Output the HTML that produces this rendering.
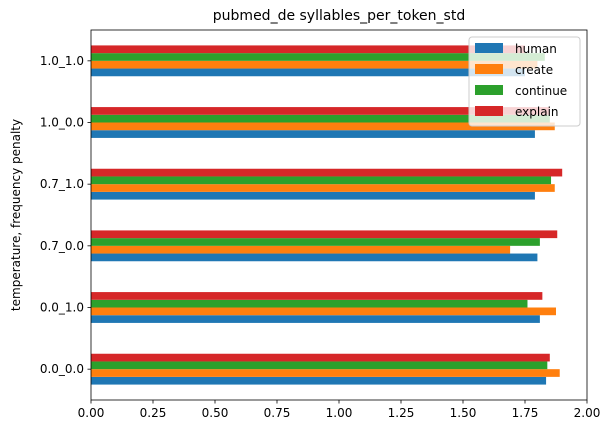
<!DOCTYPE html>
<html><head><meta charset="utf-8"><style>
body{margin:0;background:#fff;font-family:"DejaVu Sans","Liberation Sans",sans-serif}
</style></head><body>
<svg id="c" width="611" height="433" xmlns="http://www.w3.org/2000/svg" font-family="DejaVu Sans, Liberation Sans, sans-serif"></svg>
<script>
const categories=["0.0_0.0","0.0_1.0","0.7_0.0","0.7_1.0","1.0_0.0","1.0_1.0"];
const seriesNames=["human","create","continue","explain"];
const human=[1.835,1.81,1.80,1.79,1.79,1.75];
const create=[1.89,1.875,1.69,1.87,1.87,1.80];
const cont=[1.84,1.76,1.81,1.855,1.85,1.83];
const explain=[1.85,1.82,1.88,1.90,1.85,1.75];
const xTicks=[0,0.25,0.5,0.75,1.0,1.25,1.5,1.75,2.0];
const colors=["#1f77b4","#ff7f0e","#2ca02c","#d62728"];
const series=[human,create,cont,explain];
const L=91,R=587,T=30,B=400,xmax=2.0;
const svg=document.getElementById('c');const NS="http://www.w3.org/2000/svg";
function x(v){return L+v/xmax*(R-L);}
const step=(B-T)/categories.length;
function yc(i){return B-step*(i+0.5);}
function mk(t,a,txt){const e=document.createElementNS(NS,t);for(const k in a)e.setAttribute(k,a[k]);if(txt!==undefined)e.textContent=txt;svg.appendChild(e);return e;}
const bh=step*0.5/4;
categories.forEach((c,i)=>{
 series.forEach((s,j)=>{
  const y=yc(i)+step*0.25-bh*(j+1);
  const r=mk('rect',{x:x(0),y:y,width:x(s[i])-x(0),height:bh,fill:colors[j]});
  
  
 });
 const tk=mk('line',{x1:L-3.5,x2:L,y1:yc(i),y2:yc(i),stroke:'#000','stroke-width':0.8});
 
 
 const tl=mk('text',{x:L-7,y:yc(i)+4,'text-anchor':'end','font-size':12},c);
 
 
});
xTicks.forEach(v=>{
 const tk=mk('line',{x1:x(v),x2:x(v),y1:B,y2:B+3.5,stroke:'#000','stroke-width':0.8});
 
 
 const tl=mk('text',{x:x(v),y:B+17,'text-anchor':'middle','font-size':12},v.toFixed(2));
 
 
});
const fr=mk('rect',{x:L,y:T,width:R-L,height:B-T,fill:'none',stroke:'#000','stroke-width':0.8});


const ti=mk('text',{x:(L+R)/2,y:T-10,'text-anchor':'middle','font-size':14},'pubmed_de syllables_per_token_std');


const yl=mk('text',{x:0,y:0,'text-anchor':'middle','font-size':12,transform:'translate(20,'+((T+B)/2)+') rotate(-90)'},'temperature, frequency penalty');


const lg=mk('rect',{x:469,y:37,width:111,height:89,rx:3,fill:'#fff','fill-opacity':0.8,stroke:'#ccc'});


seriesNames.forEach((n,j)=>{
 const y=48+j*21;
 const sw=mk('rect',{x:475,y:y-5,width:28,height:10,fill:colors[j]});
 
 
 const lt=mk('text',{x:515,y:y+5,'font-size':12},n);
 
 
});
</script>
</body></html>
